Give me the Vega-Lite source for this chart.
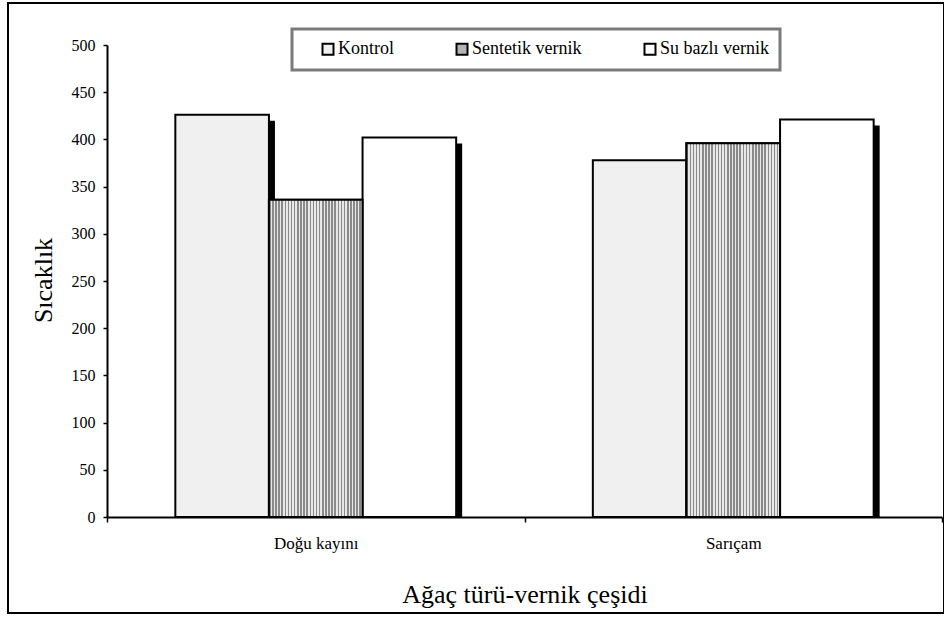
{
  "$schema": "https://vega.github.io/schema/vega-lite/v6.json",
  "width": 936,
  "height": 610,
  "autosize": {"type": "none"},
  "padding": {"left": 8, "top": 3, "right": 0, "bottom": 4},
  "background": "white",
  "config": {
    "view": {"stroke": "black", "strokeWidth": 2},
    "font": "Liberation Serif",
    "axis": {
      "labelFont": "Liberation Serif",
      "titleFont": "Liberation Serif",
      "labelColor": "black",
      "titleColor": "black",
      "titleFontWeight": "normal",
      "domainColor": "black",
      "tickColor": "black",
      "grid": false
    },
    "legend": {"strokeColor": "#7a7a7a", "strokeWidth": 3}
  },
  "data": {
    "values": [
      {"species": "Doğu kayını", "treatment": "Kontrol", "value": 426},
      {"species": "Doğu kayını", "treatment": "Sentetik vernik", "value": 336},
      {"species": "Doğu kayını", "treatment": "Su bazlı vernik", "value": 402},
      {"species": "Sarıçam", "treatment": "Kontrol", "value": 378},
      {"species": "Sarıçam", "treatment": "Sentetik vernik", "value": 396},
      {"species": "Sarıçam", "treatment": "Su bazlı vernik", "value": 421}
    ]
  },
  "encoding": {
    "x": {
      "field": "species",
      "type": "nominal",
      "sort": ["Doğu kayını", "Sarıçam"],
      "scale": {"range": [99, 934], "paddingInner": 0, "paddingOuter": 0},
      "axis": {
        "title": "Ağaç türü-vernik çeşidi",
        "offset": -96,
        "tickBand": "extent",
        "tickSize": 5,
        "tickWidth": 1.5,
        "domainWidth": 2,
        "labelAngle": 0,
        "labelFont": "Liberation Serif",
        "labelFontSize": 17,
        "labelPadding": 13,
        "titleFont": "Liberation Serif",
        "titleFontSize": 26,
        "titleY": 85,
        "titleBaseline": "alphabetic"
      }
    },
    "y": {
      "field": "value",
      "type": "quantitative",
      "scale": {"domain": [0, 500], "range": [514, 42], "nice": false, "zero": true},
      "axis": {
        "title": "Sıcaklık",
        "values": [0, 50, 100, 150, 200, 250, 300, 350, 400, 450, 500],
        "offset": -99,
        "domainWidth": 2,
        "tickSize": 4,
        "tickWidth": 1.5,
        "labelFont": "Liberation Serif",
        "labelFontSize": 16,
        "labelPadding": 8,
        "titleFont": "Liberation Serif",
        "titleFontSize": 26,
        "titleAngle": 270,
        "titleX": -56,
        "titleY": 277,
        "titleAlign": "center",
        "titleBaseline": "alphabetic"
      }
    }
  },
  "resolve": {"scale": {"xOffset": "independent"}},
  "layer": [
    {
      "mark": {"type": "bar", "fill": "black", "yOffset": 6},
      "encoding": {
        "xOffset": {
          "field": "treatment",
          "type": "nominal",
          "sort": ["Kontrol", "Sentetik vernik", "Su bazlı vernik"],
          "scale": {"range": [6, 423.5], "paddingInner": 0, "paddingOuter": 0.73}
        },
        "y2": {"datum": 0}
      }
    },
    {
      "layer": [
        {
          "mark": {"type": "bar", "stroke": "black", "strokeWidth": 2, "fillOpacity": 1},
          "encoding": {
            "color": {
              "field": "treatment",
              "type": "nominal",
              "scale": {
                "domain": ["Kontrol", "Sentetik vernik", "Su bazlı vernik"],
                "range": ["#f0f0f0", "#b4b4b4", "#ffffff"]
              },
              "legend": {
                "orient": "none",
                "legendX": 284,
                "legendY": 26,
                "direction": "horizontal",
                "title": " ",
                "titleOrient": "left",
                "titleFontSize": 1,
                "titlePadding": 16,
                "padding": 11,
                "strokeColor": "#7a7a7a",
                "fillColor": "white",
                "symbolType": "square",
                "symbolSize": 121,
                "symbolStrokeColor": "black",
                "symbolStrokeWidth": 2,
                "symbolOpacity": 1,
                "labelFont": "Liberation Serif",
                "labelFontSize": 18,
                "labelColor": "black",
                "labelOffset": 1,
                "columnPadding": 58,
                "labelLimit": 300
              }
            }
          }
        },
        {
          "transform": [{"filter": "datum.treatment === 'Sentetik vernik'"}],
          "mark": {
            "type": "bar",
            "stroke": "black",
            "strokeWidth": 2,
            "fill": {
              "gradient": "linear",
              "x1": 0, "y1": 0, "x2": 1, "y2": 0,
              "stops": [
                {"offset": 0, "color": "#8a8a8a"},
                {"offset": 0.0167, "color": "#8a8a8a"}, {"offset": 0.0167, "color": "#e8e8e8"},
                {"offset": 0.0333, "color": "#e8e8e8"}, {"offset": 0.0333, "color": "#8a8a8a"},
                {"offset": 0.05, "color": "#8a8a8a"}, {"offset": 0.05, "color": "#e8e8e8"},
                {"offset": 0.0667, "color": "#e8e8e8"}, {"offset": 0.0667, "color": "#8a8a8a"},
                {"offset": 0.0833, "color": "#8a8a8a"}, {"offset": 0.0833, "color": "#e8e8e8"},
                {"offset": 0.1, "color": "#e8e8e8"}, {"offset": 0.1, "color": "#8a8a8a"},
                {"offset": 0.1167, "color": "#8a8a8a"}, {"offset": 0.1167, "color": "#e8e8e8"},
                {"offset": 0.1333, "color": "#e8e8e8"}, {"offset": 0.1333, "color": "#8a8a8a"},
                {"offset": 0.15, "color": "#8a8a8a"}, {"offset": 0.15, "color": "#e8e8e8"},
                {"offset": 0.1667, "color": "#e8e8e8"}, {"offset": 0.1667, "color": "#8a8a8a"},
                {"offset": 0.1833, "color": "#8a8a8a"}, {"offset": 0.1833, "color": "#e8e8e8"},
                {"offset": 0.2, "color": "#e8e8e8"}, {"offset": 0.2, "color": "#8a8a8a"},
                {"offset": 0.2167, "color": "#8a8a8a"}, {"offset": 0.2167, "color": "#e8e8e8"},
                {"offset": 0.2333, "color": "#e8e8e8"}, {"offset": 0.2333, "color": "#8a8a8a"},
                {"offset": 0.25, "color": "#8a8a8a"}, {"offset": 0.25, "color": "#e8e8e8"},
                {"offset": 0.2667, "color": "#e8e8e8"}, {"offset": 0.2667, "color": "#8a8a8a"},
                {"offset": 0.2833, "color": "#8a8a8a"}, {"offset": 0.2833, "color": "#e8e8e8"},
                {"offset": 0.3, "color": "#e8e8e8"}, {"offset": 0.3, "color": "#8a8a8a"},
                {"offset": 0.3167, "color": "#8a8a8a"}, {"offset": 0.3167, "color": "#e8e8e8"},
                {"offset": 0.3333, "color": "#e8e8e8"}, {"offset": 0.3333, "color": "#8a8a8a"},
                {"offset": 0.35, "color": "#8a8a8a"}, {"offset": 0.35, "color": "#e8e8e8"},
                {"offset": 0.3667, "color": "#e8e8e8"}, {"offset": 0.3667, "color": "#8a8a8a"},
                {"offset": 0.3833, "color": "#8a8a8a"}, {"offset": 0.3833, "color": "#e8e8e8"},
                {"offset": 0.4, "color": "#e8e8e8"}, {"offset": 0.4, "color": "#8a8a8a"},
                {"offset": 0.4167, "color": "#8a8a8a"}, {"offset": 0.4167, "color": "#e8e8e8"},
                {"offset": 0.4333, "color": "#e8e8e8"}, {"offset": 0.4333, "color": "#8a8a8a"},
                {"offset": 0.45, "color": "#8a8a8a"}, {"offset": 0.45, "color": "#e8e8e8"},
                {"offset": 0.4667, "color": "#e8e8e8"}, {"offset": 0.4667, "color": "#8a8a8a"},
                {"offset": 0.4833, "color": "#8a8a8a"}, {"offset": 0.4833, "color": "#e8e8e8"},
                {"offset": 0.5, "color": "#e8e8e8"}, {"offset": 0.5, "color": "#8a8a8a"},
                {"offset": 0.5167, "color": "#8a8a8a"}, {"offset": 0.5167, "color": "#e8e8e8"},
                {"offset": 0.5333, "color": "#e8e8e8"}, {"offset": 0.5333, "color": "#8a8a8a"},
                {"offset": 0.55, "color": "#8a8a8a"}, {"offset": 0.55, "color": "#e8e8e8"},
                {"offset": 0.5667, "color": "#e8e8e8"}, {"offset": 0.5667, "color": "#8a8a8a"},
                {"offset": 0.5833, "color": "#8a8a8a"}, {"offset": 0.5833, "color": "#e8e8e8"},
                {"offset": 0.6, "color": "#e8e8e8"}, {"offset": 0.6, "color": "#8a8a8a"},
                {"offset": 0.6167, "color": "#8a8a8a"}, {"offset": 0.6167, "color": "#e8e8e8"},
                {"offset": 0.6333, "color": "#e8e8e8"}, {"offset": 0.6333, "color": "#8a8a8a"},
                {"offset": 0.65, "color": "#8a8a8a"}, {"offset": 0.65, "color": "#e8e8e8"},
                {"offset": 0.6667, "color": "#e8e8e8"}, {"offset": 0.6667, "color": "#8a8a8a"},
                {"offset": 0.6833, "color": "#8a8a8a"}, {"offset": 0.6833, "color": "#e8e8e8"},
                {"offset": 0.7, "color": "#e8e8e8"}, {"offset": 0.7, "color": "#8a8a8a"},
                {"offset": 0.7167, "color": "#8a8a8a"}, {"offset": 0.7167, "color": "#e8e8e8"},
                {"offset": 0.7333, "color": "#e8e8e8"}, {"offset": 0.7333, "color": "#8a8a8a"},
                {"offset": 0.75, "color": "#8a8a8a"}, {"offset": 0.75, "color": "#e8e8e8"},
                {"offset": 0.7667, "color": "#e8e8e8"}, {"offset": 0.7667, "color": "#8a8a8a"},
                {"offset": 0.7833, "color": "#8a8a8a"}, {"offset": 0.7833, "color": "#e8e8e8"},
                {"offset": 0.8, "color": "#e8e8e8"}, {"offset": 0.8, "color": "#8a8a8a"},
                {"offset": 0.8167, "color": "#8a8a8a"}, {"offset": 0.8167, "color": "#e8e8e8"},
                {"offset": 0.8333, "color": "#e8e8e8"}, {"offset": 0.8333, "color": "#8a8a8a"},
                {"offset": 0.85, "color": "#8a8a8a"}, {"offset": 0.85, "color": "#e8e8e8"},
                {"offset": 0.8667, "color": "#e8e8e8"}, {"offset": 0.8667, "color": "#8a8a8a"},
                {"offset": 0.8833, "color": "#8a8a8a"}, {"offset": 0.8833, "color": "#e8e8e8"},
                {"offset": 0.9, "color": "#e8e8e8"}, {"offset": 0.9, "color": "#8a8a8a"},
                {"offset": 0.9167, "color": "#8a8a8a"}, {"offset": 0.9167, "color": "#e8e8e8"},
                {"offset": 0.9333, "color": "#e8e8e8"}, {"offset": 0.9333, "color": "#8a8a8a"},
                {"offset": 0.95, "color": "#8a8a8a"}, {"offset": 0.95, "color": "#e8e8e8"},
                {"offset": 0.9667, "color": "#e8e8e8"}, {"offset": 0.9667, "color": "#8a8a8a"},
                {"offset": 0.9833, "color": "#8a8a8a"}, {"offset": 0.9833, "color": "#e8e8e8"},
                {"offset": 1, "color": "#e8e8e8"}
              ]
            }
          }
        }
      ],
      "encoding": {
        "xOffset": {
          "field": "treatment",
          "type": "nominal",
          "sort": ["Kontrol", "Sentetik vernik", "Su bazlı vernik"],
          "scale": {"paddingInner": 0, "paddingOuter": 0.73}
        }
      }
    }
  ]
}
